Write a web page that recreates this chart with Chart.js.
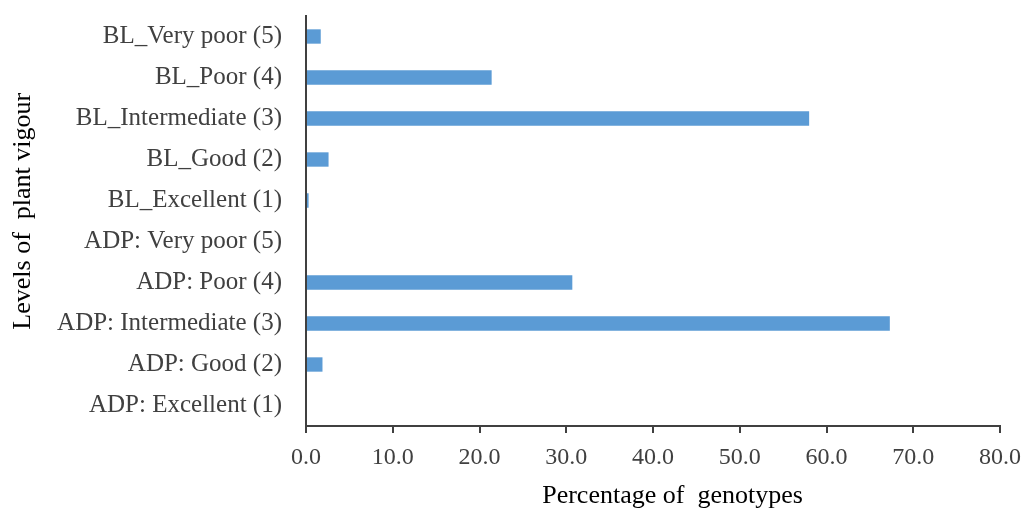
<!DOCTYPE html>
<html>
<head>
<meta charset="utf-8">
<script src="https://cdn.jsdelivr.net/npm/chart.js@4"></script>
<style>
  html, body { margin: 0; padding: 0; background: #fff; }
  #wrap { width: 1031px; height: 512px; }
</style>
</head>
<body>
<div id="wrap"><canvas id="barras" width="1031" height="512"></canvas></div>
<script>
const levels = [
  'BL_Very poor (5)',
  'BL_Poor (4)',
  'BL_Intermediate (3)',
  'BL_Good (2)',
  'BL_Excellent (1)',
  'ADP: Very poor (5)',
  'ADP: Poor (4)',
  'ADP: Intermediate (3)',
  'ADP: Good (2)',
  'ADP: Excellent (1)',
];
const percentages = [1.7, 21.4, 58.0, 2.6, 0.3, 0.0, 30.7, 67.3, 1.9, 0.0];
const xTicks = [0, 10, 20, 30, 40, 50, 60, 70, 80];

const serif = "'Liberation Serif', 'DejaVu Serif', serif";

// leading spaces nudge the centred titles a little, like in the original figure
const config = {
  type: 'bar',
  data: {
    labels: levels,
    datasets: [
      {
        data: percentages,
        backgroundColor: '#5B9BD5',
        borderWidth: 0,
        barPercentage: 0.35,
        categoryPercentage: 1.0,
      },
    ],
  },
  options: {
    indexAxis: 'y',
    responsive: false,
    animation: false,
    layout: { padding: { top: 16, right: 28, left: 0, bottom: 0 } },
    plugins: { legend: { display: false }, tooltip: { enabled: false } },
    scales: {
      x: {
        min: 0,
        max: 80,
        afterBuildTicks: (scale) => {
          scale.ticks = xTicks.map((v) => ({ value: v }));
        },
        afterFit: (scale) => {
          scale.height = 86;
        },
        ticks: {
          color: '#404040',
          padding: 10,
          maxRotation: 0,
          font: { family: serif, size: 24 },
          callback: (v) => Number(v).toFixed(1),
        },
        grid: {
          drawOnChartArea: false,
          drawTicks: true,
          tickLength: 7,
          color: '#404040',
          lineWidth: 2,
        },
        border: { display: true, color: '#404040', width: 2 },
        title: {
          display: true,
          text: '      Percentage of  genotypes',
          color: '#000',
          font: { family: serif, size: 26 },
          padding: { top: 6, bottom: 0 },
        },
      },
      y: {
        afterFit: (scale) => {
          scale.width = 306;
          scale.paddingTop = 0;
          scale.paddingBottom = 0;
        },
        ticks: {
          color: '#404040',
          padding: 24,
          font: { family: serif, size: 25 },
        },
        grid: { drawOnChartArea: false, drawTicks: false },
        border: { display: true, color: '#404040', width: 2 },
        title: {
          display: true,
          text: '   Levels of  plant vigour',
          color: '#000',
          font: { family: serif, size: 26 },
          padding: { top: 8, bottom: 0 },
        },
      },
    },
  },
};

new Chart(document.getElementById('barras'), config);
</script>
</body>
</html>
